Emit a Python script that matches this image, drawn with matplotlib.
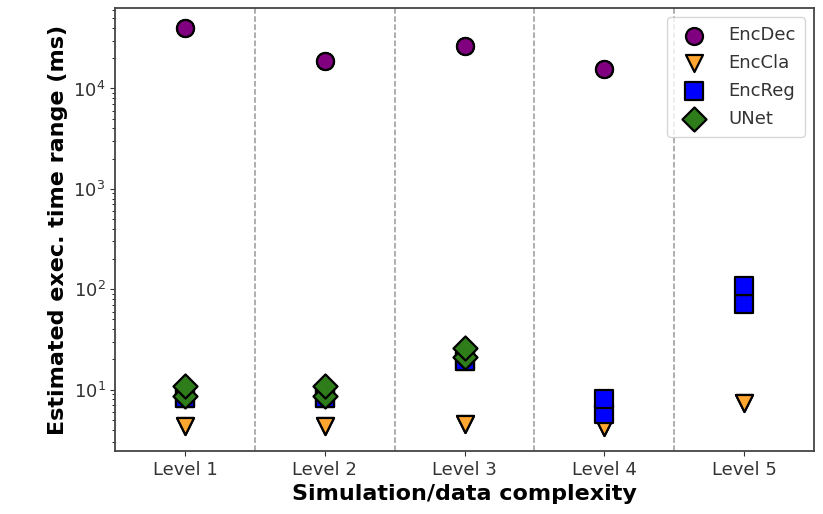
import numpy as np
import matplotlib.pyplot as plt

levels = ['Level 1', 'Level 2', 'Level 3', 'Level 4', 'Level 5']

# min / max estimated execution time (ms) per level, nan = not evaluated
encdec_min = [40000, 18600, 26300, 15500, np.nan]
encdec_max = [40000, 18600, 26300, 15500, np.nan]
encla_min = [4.3, 4.3, 4.6, 4.2, 7.4]
encla_max = [4.3, 4.3, 4.6, 4.2, 7.4]
encreg_min = [8.3, 8.3, 19.5, 5.7, 72]
encreg_max = [8.3, 8.3, 19.5, 8.0, 107]
unet_min = [8.6, 8.6, 21, np.nan, np.nan]
unet_max = [10.8, 10.8, 26, np.nan, np.nan]

models = [
    ('EncDec', encdec_min, encdec_max, 'o', 'purple'),
    ('EncCla', encla_min, encla_max, 'v', '#ffa630'),
    ('EncReg', encreg_min, encreg_max, 's', 'blue'),
    ('UNet', unet_min, unet_max, 'D', '#2e7d1a'),
]

x = np.arange(1, len(levels) + 1)

fig = plt.figure(figsize=(8.23, 5.14), dpi=100)
ax = fig.add_axes([0.140, 0.1226, 0.849, 0.8614])

for name, lo, hi, mk, col in models:
    xs = np.concatenate([x, x])
    ys = np.concatenate([lo, hi])
    ax.scatter(xs, ys, marker=mk, s=150, color=col, edgecolor='black',
               linewidth=1.6, label=name, zorder=3)

for b in x[:-1] + 0.5:
    ax.axvline(b, color='gray', linestyle='--', linewidth=1.1, alpha=0.8)

ax.set_yscale('log')
ax.set_ylim(2.45, 63000)
ax.set_xlim(0.5, 5.5)
ax.set_xticks(x)
ax.set_xticklabels(levels)
ax.tick_params(labelsize=13, colors='#333333')
for sp in ax.spines.values():
    sp.set_color('#444444')
    sp.set_linewidth(1.3)

ax.set_xlabel('Simulation/data complexity', fontsize=16, fontweight='bold')
ax.set_ylabel('Estimated exec. time range (ms)', fontsize=16, fontweight='bold')
leg = ax.legend(loc='upper right', fontsize=13, framealpha=0.8, borderpad=0.5,
                handletextpad=0.9, labelspacing=0.55)
for t in leg.get_texts():
    t.set_color('#333333')

fig.savefig('out.png', dpi=100)
